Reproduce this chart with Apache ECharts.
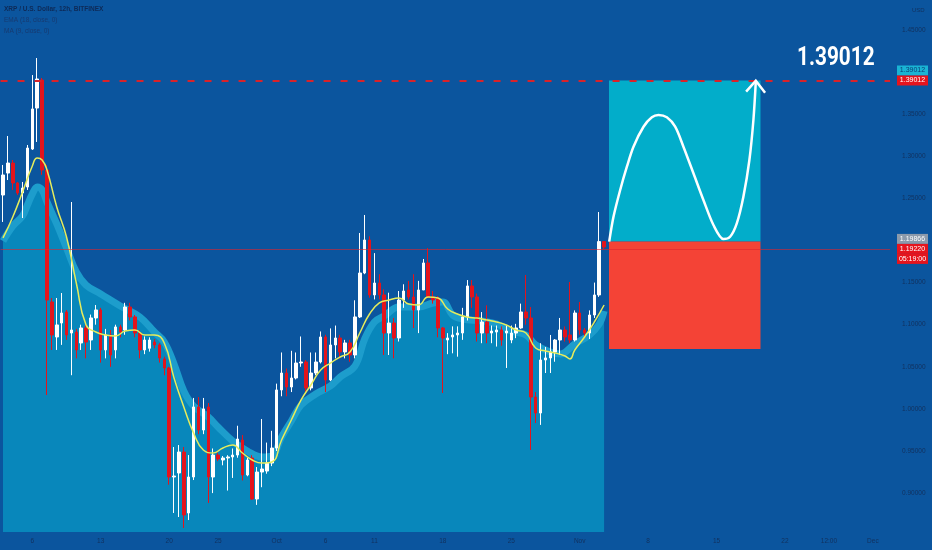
<!DOCTYPE html>
<html><head><meta charset="utf-8">
<script src="https://cdn.jsdelivr.net/npm/echarts@6/dist/echarts.min.js"></script>
<style>html,body{margin:0;padding:0;background:#0b559e}#c{width:932px;height:550px}</style>
</head><body><div id="c"></div>
<script>
// ---- categories: 12h bars starting 2021-09-03 00:00 (UTC)
const startTime = Date.UTC(2021, 8, 3, 0, 0);
const slotCount = 182;
const categories = [];
for (let i = 0; i < slotCount; i++) {
  categories.push(new Date(startTime + i * 12 * 3600e3).toISOString().slice(0, 16).replace('T', ' '));
}

// ---- x tick labels
const tickCats = ['2021-09-06 00:00','2021-09-13 00:00','2021-09-20 00:00','2021-09-25 00:00','2021-10-01 00:00','2021-10-06 00:00','2021-10-11 00:00','2021-10-18 00:00','2021-10-25 00:00','2021-11-01 00:00','2021-11-08 00:00','2021-11-15 00:00','2021-11-22 00:00','2021-11-26 12:00','2021-12-01 00:00'];
const tickTexts = ['6','13','20','25','Oct','6','11','18','25','Nov','8','15','22','12:00','Dec'];
const yTickValues = [0.90,0.95,1.00,1.05,1.10,1.15,1.25,1.30,1.35,1.45];

// ---- candles [open, close, low, high]
const candles = [
[1.2540,1.2778,1.2220,1.2897],[1.2801,1.2920,1.2718,1.3241],[1.2920,1.2683,1.2600,1.2956],[1.2683,1.2564,1.2540,1.2695],
[1.2564,1.2623,1.2267,1.2695],[1.2635,1.3098,1.2600,1.3134],[1.3086,1.3562,1.3075,1.3965],[1.3573,1.3918,1.3170,1.4167],
[1.3906,1.2837,1.2780,1.3930],[1.2837,1.1293,1.0165,1.2897],[1.1270,1.0878,1.0700,1.1317],[1.0854,1.0997,1.0700,1.1317],
[1.1020,1.1139,1.0760,1.1376],[1.1151,1.0878,1.0820,1.1175],[1.0901,1.0937,1.0400,1.2457],[1.0913,1.0700,1.0600,1.0950],
[1.0783,1.0961,1.0700,1.1000],[1.0961,1.0794,1.0600,1.1000],[1.0818,1.1080,1.0700,1.1120],[1.1080,1.1175,1.1000,1.1234],
[1.1175,1.0700,1.0550,1.1200],[1.0700,1.0878,1.0600,1.0950],[1.0878,1.0640,1.0500,1.0937],[1.0700,1.0973,1.0600,1.1000],
[1.0973,1.0913,1.0850,1.1000],[1.0937,1.1210,1.0880,1.1260],[1.1210,1.1092,1.1050,1.1260],[1.1092,1.0901,1.0850,1.1115],
[1.0901,1.0700,1.0600,1.0937],[1.0700,1.0818,1.0650,1.0861],[1.0720,1.0818,1.0680,1.0850],[1.0794,1.0759,1.0720,1.0830],
[1.0759,1.0605,1.0550,1.0780],[1.0593,1.0486,1.0400,1.0620],[1.0486,0.9191,0.9100,1.0500],[0.9191,0.9203,0.8764,0.9547],
[0.9239,0.9488,0.8716,0.9571],[0.9488,0.8740,0.8586,0.9547],[0.8764,0.9191,0.8680,0.9452],[0.9191,1.0023,0.9155,1.0130],
[1.0023,0.9749,0.9700,1.0141],[0.9749,1.0000,0.9700,1.0130],[1.0023,0.9191,0.8883,1.0070],[0.9191,0.9452,0.9000,0.9530],
[0.9452,0.9405,0.9380,0.9480],[0.9393,0.9417,0.9330,0.9440],[0.9417,0.9429,0.9030,0.9450],[0.9429,0.9452,0.9180,0.9530],
[0.9452,0.9642,0.9420,0.9800],[0.9630,0.9215,0.9150,0.9690],[0.9215,0.9393,0.9200,0.9420],[0.9417,0.8930,0.8920,0.9450],
[0.8930,0.9250,0.8860,0.9310],[0.9250,0.9286,0.9070,0.9880],[0.9262,0.9357,0.9230,0.9600],[0.9357,0.9535,0.9320,0.9740],
[0.9535,1.0225,0.9500,1.0300],[1.0225,1.0426,1.0150,1.0670],[1.0426,1.0260,1.0150,1.0480],[1.0260,1.0367,1.0200,1.0690],
[1.0367,1.0545,1.0350,1.0670],[1.0545,1.0557,1.0500,1.0860],[1.0557,1.0248,1.0200,1.0580],[1.0248,1.0426,1.0220,1.0670],
[1.0426,1.0557,1.0400,1.0670],[1.0557,1.0854,1.0540,1.0920],[1.0854,1.0343,1.0200,1.0880],[1.0343,1.0759,1.0330,1.0956],
[1.0759,1.0842,1.0600,1.0990],[1.0842,1.0676,1.0600,1.0880],[1.0676,1.0783,1.0600,1.0820],[1.0783,1.0640,1.0560,1.0820],
[1.0640,1.1092,1.0600,1.1290],[1.1092,1.1614,1.1080,1.2089],[1.1614,1.2006,1.1600,1.2303],[1.2006,1.1353,1.1320,1.2050],
[1.1353,1.1495,1.1300,1.1850],[1.1495,1.1353,1.1300,1.1600],[1.1353,1.0901,1.0640,1.1420],[1.0901,1.1020,1.0640,1.1380],
[1.1020,1.0842,1.0600,1.1080],[1.0842,1.1293,1.0800,1.1400],[1.1293,1.1400,1.1200,1.1480],[1.1412,1.1329,1.1300,1.1520],
[1.1329,1.1175,1.0960,1.1600],[1.1175,1.1412,1.0900,1.1520],[1.1412,1.1733,1.1412,1.1780],[1.1733,1.1329,1.1320,1.1910],
[1.1329,1.1293,1.1250,1.1400],[1.1317,1.0961,1.0850,1.1340],[1.0961,1.0842,1.0189,1.0973],[1.0818,1.0842,1.0650,1.0900],
[1.0854,1.0878,1.0660,1.0980],[1.0878,1.0901,1.0620,1.0980],[1.0901,1.1092,1.0820,1.1200],[1.1092,1.1460,1.1050,1.1530],
[1.1460,1.1329,1.1200,1.1530],[1.1329,1.0901,1.0800,1.1370],[1.0901,1.1032,1.0780,1.1150],[1.1032,1.0901,1.0780,1.1230],
[1.0901,1.0925,1.0780,1.0990],[1.0913,1.0937,1.0740,1.0990],[1.0937,1.0818,1.0750,1.0980],[1.0901,1.0925,1.0486,1.0990],
[1.0818,1.0901,1.0780,1.0990],[1.0901,1.0961,1.0840,1.1010],[1.0961,1.1151,1.0950,1.1250],[1.1151,1.1080,1.1000,1.1590],
[1.1080,1.0141,0.9512,1.1210],[1.0141,0.9951,0.9832,1.0200],[0.9951,1.0581,0.9810,1.0780],[1.0581,1.0605,1.0426,1.0735],
[1.0605,1.0676,1.0426,1.0878],[1.0676,1.0818,1.0560,1.0830],[1.0818,1.0937,1.0640,1.1080],[1.0937,1.0854,1.0800,1.0980],
[1.0878,1.0818,1.0780,1.1507],[1.0818,1.1139,1.0800,1.1170],[1.1139,1.0937,1.0880,1.1270],[1.0937,1.0901,1.0850,1.0960],
[1.0901,1.1115,1.0830,1.1170],[1.1115,1.1353,1.1080,1.1500],[1.1353,1.1987,1.1330,1.2338],[1.1987,1.1922,1.1900,1.1990]
];

// ---- yellow moving-average line
const emaSlots = [0,2,4,6,7,8,9,11,13,15,17,19,21,23,25,27,29,31,33,35,37,39,41,43,45,47,49,51,53,55,57,59,61,63,65,67,69,71,73,75,77,79,81,83,85,87,89,91,93,95,97,99,101,103,105,107,109,111,113,115,116,117,119,121,123];
const emaValues = [1.2030,1.2279,1.2576,1.2885,1.2980,1.2956,1.2837,1.2398,1.2041,1.1495,1.0996,1.0913,1.0878,1.0866,1.0925,1.0937,1.0878,1.0878,1.0783,1.0367,1.0023,0.9714,0.9512,0.9476,0.9536,0.9571,0.9476,0.9393,0.9357,0.9369,0.9631,0.9868,1.0106,1.0284,1.0462,1.0545,1.0616,1.0676,1.0901,1.1127,1.1258,1.1293,1.1317,1.1246,1.1234,1.1329,1.1317,1.1186,1.1127,1.1091,1.1079,1.1056,1.1032,1.0996,1.0937,1.0901,1.0723,1.0688,1.0664,1.0628,1.0593,1.0699,1.0854,1.1032,1.1234];

// ---- shaded area indicator
const areaSlots = [0,2,4,5,6,7,8,9,11,13,15,17,20,24,28,31,33,35,37,39,42,44,47,50,53,55,57,59,61,64,67,69,72,74,76,78,81,85,88,90,92,94,98,101,104,107,109,112,114,117,120,122,123];
const areaValues = [1.1994,1.2172,1.2291,1.2421,1.2552,1.2635,1.2600,1.2457,1.2196,1.1911,1.1626,1.1471,1.1364,1.1222,1.1091,1.0913,1.0794,1.0533,1.0213,1.0034,0.9904,0.9785,0.9619,0.9500,0.9429,0.9441,0.9666,0.9856,1.0046,1.0177,1.0272,1.0379,1.0509,1.0830,1.1032,1.1103,1.1210,1.1210,1.1258,1.1269,1.1115,1.1068,1.1044,1.1008,1.0925,1.0878,1.0759,1.0676,1.0652,1.0771,1.0878,1.1008,1.1163];

// ---- position tool prices
const targetPrice = 1.39012;
const entryPrice = 1.19866;
const lastPrice = 1.19220;
const stopPrice = 1.07101;
const countdown = '05:19:00';
const zoneStart = '2021-11-04 00:00';
const zoneEnd = '2021-11-19 12:00';

// ---- hand-drawn projection curve (x in bar units, y in price)
const pathX = [124.54,125.42,126.79,128.16,129.51,131.56,133.27,134.62,136.34,138.04,139.73,141.78,143.82,145.87,147.91,149.28,150.65,152.00,153.23,154.05,154.54];
const pathY = [1.1986,1.2282,1.2600,1.2876,1.3114,1.3351,1.3463,1.3490,1.3463,1.3351,1.3114,1.2798,1.2481,1.2184,1.2018,1.2045,1.2204,1.2520,1.2956,1.3431,1.3886];
const arrowX = [152.56,154.54,156.44];
const arrowY = [1.3767,1.3898,1.3755];

const tickMap = {};
tickCats.forEach((c, k) => { tickMap[c] = tickTexts[k]; });
const fmt = v => v.toFixed(5);
const smallFont = "'Liberation Sans', Arial, sans-serif";
const axisTextColor = '#12315e';
const boxStyle = (bg, fg) => ({backgroundColor: bg, color: fg, width: 31, height: 10, lineHeight: 10, align: 'center', fontSize: 7, fontFamily: smallFont});

const chart = echarts.init(document.getElementById('c'), null, {renderer: 'canvas'});
chart.setOption({
  backgroundColor: '#0b559e',
  animation: false,
  title: [
    {text: 'XRP / U.S. Dollar, 12h, BITFINEX', left: 4, top: 6, padding: 0, textStyle: {fontSize: 6.5, fontWeight: 'bold', color: '#0e2a57', fontFamily: smallFont}},
    {text: 'EMA (18, close, 0)', left: 4, top: 17, padding: 0, textStyle: {fontSize: 6.5, fontWeight: 'normal', color: '#173a70', fontFamily: smallFont}},
    {text: 'MA (9, close, 0)', left: 4, top: 28, padding: 0, textStyle: {fontSize: 6.5, fontWeight: 'normal', color: '#173a70', fontFamily: smallFont}},
    {text: 'USD', left: 912, top: 7, padding: 0, textStyle: {fontSize: 6, fontWeight: 'normal', color: axisTextColor, fontFamily: smallFont}}
  ],
  graphic: [
    {type: 'text', x: 797, y: 45, scaleX: 0.8, z: 100,
     style: {text: fmt(targetPrice), fill: '#ffffff', font: "bold 26px Roboto, 'Liberation Sans', sans-serif", textVerticalAlign: 'top'}}
  ],
  grid: {left: 0, right: 42, top: 0, bottom: 18},
  xAxis: [
    {type: 'category', data: categories, boundaryGap: true,
     axisLine: {show: false}, axisTick: {show: false}, splitLine: {show: false},
     axisLabel: {interval: 0, formatter: v => tickMap[v] || '', color: axisTextColor, fontSize: 6.5, margin: 6, fontFamily: smallFont}},
    {type: 'value', min: 0, max: slotCount, show: false}
  ],
  yAxis: {type: 'value', position: 'right', min: 0.8538, max: 1.4856,
    splitLine: {show: false}, axisLine: {show: false}, axisTick: {show: false},
    axisLabel: {customValues: yTickValues, formatter: v => fmt(v), color: axisTextColor, fontSize: 6.5, margin: 12, fontFamily: smallFont}},
  series: [
    {type: 'line', name: 'MA area', z: 1, smooth: 0.4, symbol: 'none',
     data: areaSlots.map((s, k) => [categories[s], areaValues[k]]),
     lineStyle: {color: '#1d9dcc', width: 7},
     areaStyle: {color: '#0887bb', opacity: 1, origin: 'start'},
     markArea: {silent: true, data: [
       [{xAxis: zoneStart, yAxis: targetPrice, itemStyle: {color: '#02adca'}}, {xAxis: zoneEnd, yAxis: entryPrice}],
       [{xAxis: zoneStart, yAxis: entryPrice, itemStyle: {color: '#f44336'}}, {xAxis: zoneEnd, yAxis: stopPrice}]
     ]}},
    {type: 'candlestick', name: 'XRP', z: 3, barWidth: 3, data: candles,
     itemStyle: {color: '#ffffff', color0: '#e3141c', borderColor: '#ffffff', borderColor0: '#e3141c', borderWidth: 1}},
    {type: 'line', name: 'EMA', z: 4, smooth: 0.5, symbol: 'none',
     data: emaSlots.map((s, k) => [categories[s], emaValues[k]]),
     lineStyle: {color: '#e6ec5c', width: 1.5}},
    {type: 'line', name: 'path', xAxisIndex: 1, z: 10, smooth: 0.3, symbol: 'none', clip: false,
     data: pathX.map((x, k) => [x, pathY[k]]),
     lineStyle: {color: '#ffffff', width: 2.5},
     markLine: {silent: true, symbol: ['none', 'none'],
       label: {position: 'end', distance: 7, fontFamily: smallFont, rich: {
         c: boxStyle('#19b4d4', '#0b3d75'), r: boxStyle('#e5141d', '#ffffff'),
         g: boxStyle('#8c9aab', '#ffffff'), o: boxStyle('#f44336', '#ffffff'),
         e: {color: 'transparent', width: 31, height: 10, lineHeight: 10, fontSize: 7}}},
       data: [
         {yAxis: targetPrice, lineStyle: {color: '#d8232a', width: 2, type: [7, 10]},
          label: {formatter: '{c|' + fmt(targetPrice) + '}\n{r|' + fmt(targetPrice) + '}\n{e| }'}},
         {yAxis: lastPrice, lineStyle: {color: 'rgba(225,35,45,0.6)', width: 1, type: 'solid'},
          label: {formatter: '{g|' + fmt(entryPrice) + '}\n{r|' + fmt(lastPrice) + '}\n{r|' + countdown + '}'}},
         {yAxis: stopPrice, lineStyle: {opacity: 0, width: 0},
          label: {formatter: '{o|' + fmt(stopPrice) + '}'}}
       ]}},
    {type: 'line', name: 'arrow', xAxisIndex: 1, z: 10, smooth: false, symbol: 'none', clip: false,
     data: arrowX.map((x, k) => [x, arrowY[k]]),
     lineStyle: {color: '#ffffff', width: 2.5, join: 'miter'}}
  ]
});
</script></body></html>
